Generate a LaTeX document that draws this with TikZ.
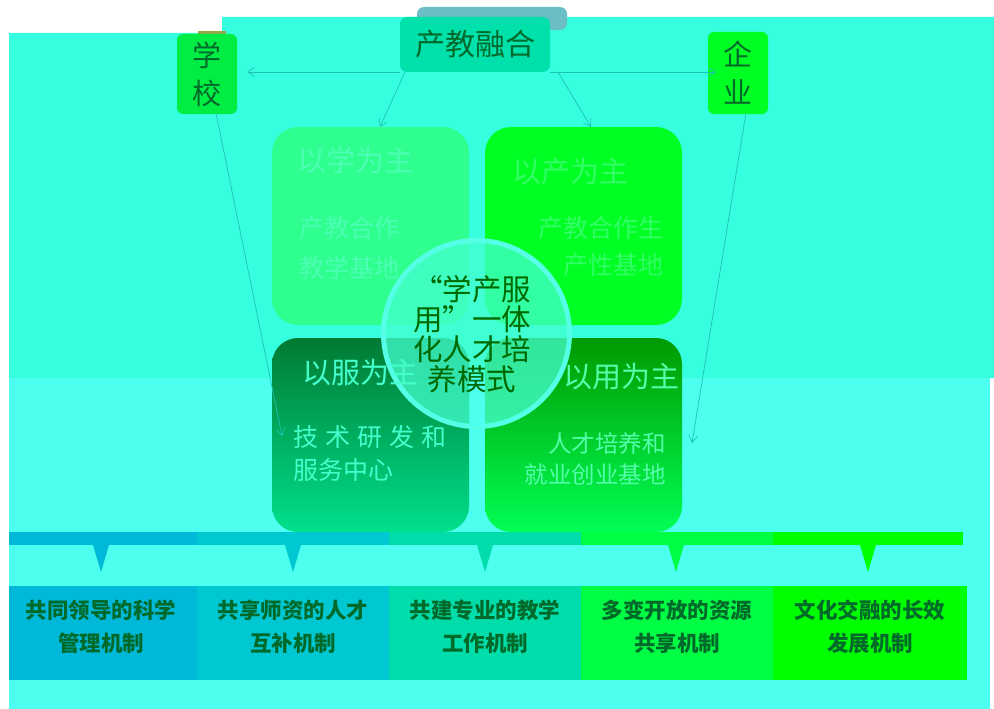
\documentclass[tikz,border=0pt]{standalone}
\usepackage{fontspec}
\newfontfamily\cjk{Noto Sans CJK SC}
\usetikzlibrary{arrows.meta}
\definecolor{bgA}{HTML}{36FFDF}
\definecolor{bgB}{HTML}{4DFFEF}
\definecolor{dk}{HTML}{006A2A}
\definecolor{ln}{HTML}{1CC2B4}
\definecolor{tabc}{HTML}{6BBDC6}
\definecolor{cjc}{HTML}{00E0AA}
\definecolor{olive}{HTML}{99A844}
\definecolor{xxc}{HTML}{00EE44}
\definecolor{qyc}{HTML}{00FF22}
\definecolor{q1c}{HTML}{2EFF8E}
\definecolor{q3a}{HTML}{007A33}
\definecolor{q3b}{HTML}{00E08C}
\definecolor{q4a}{HTML}{009A00}
\definecolor{q4b}{HTML}{00FF55}
\definecolor{t1c}{HTML}{4DFFB4}
\definecolor{t2c}{HTML}{33FF66}
\definecolor{t3c}{HTML}{44FFCC}
\definecolor{t4c}{HTML}{55FFAA}
\definecolor{cfill}{HTML}{44FFD0}
\definecolor{cring}{HTML}{55FFE6}
\definecolor{ctc}{HTML}{006A00}
\definecolor{c1}{HTML}{00B9D9}
\definecolor{c2}{HTML}{00C8D2}
\definecolor{c3}{HTML}{00DDAA}
\definecolor{c4}{HTML}{00FF44}
\definecolor{c5}{HTML}{00FF00}
\tikzset{
  x=1pt,y=-1pt,
  conn/.style={draw=ln,line width=0.7pt,-{Straight Barb[length=7pt,width=9pt]}},
  quad/.style={rounded corners=26pt,minimum width=197pt,inner sep=0pt,draw=none},
  bigt/.style={font=\cjk\fontsize{29}{36}\selectfont,inner sep=0pt},
  subt/.style={font=\cjk\fontsize{25}{40}\selectfont,inner sep=0pt},
  btxt/.style={font=\cjk\bfseries\fontsize{21.5}{33}\selectfont,text=dk,align=center,inner sep=0pt},
  bbox/.style={minimum width=192pt,minimum height=94pt,inner sep=0pt,draw=none},
  bar/.style={minimum height=13pt,inner sep=0pt,draw=none},
}
\begin{document}
\begin{tikzpicture}
\useasboundingbox (0,0) rectangle (994,709);
% background
\fill[white] (0,0) rectangle (994,709);
\fill[bgA] (9,33) -- (222,33) -- (222,17) -- (994,17) -- (994,378) -- (9,378) -- cycle;
\fill[bgB] (9,378) rectangle (990,709);
% top box
\fill[tabc, rounded corners=7pt] (417,7) rectangle (567,30);
\node[fill=cjc,rounded corners=7pt,minimum width=150pt,minimum height=55pt,inner sep=0pt,
      font=\cjk\fontsize{30}{36}\selectfont,text=dk] (cj) at (475,44.5) {产教融合};
% side boxes
\fill[olive] (198,31) rectangle (226,36);
\node[fill=xxc,rounded corners=6pt,minimum width=60pt,minimum height=80pt,inner sep=0pt,
      font=\cjk\fontsize{29}{38}\selectfont,text=dk,align=center] (xx) at (207,74) {学\\校};
\node[fill=qyc,rounded corners=6pt,minimum width=60pt,minimum height=82pt,inner sep=0pt,
      font=\cjk\fontsize{29}{38}\selectfont,text=dk,align=center] (qy) at (738,73) {企\\业};
% quadrants
\node[quad,fill=q1c,minimum height=198pt] (q1) at (370.5,226) {};
\node[quad,fill=qyc,minimum height=198pt] (q2) at (583.5,226) {};
\node[quad,top color=q3a,bottom color=q3b,minimum height=194pt] (q3) at (370.5,435) {};
\node[quad,top color=q4a,bottom color=q4b,minimum height=194pt] (q4) at (583.5,435) {};
% quadrant texts
\node[bigt,anchor=west,text=t1c] (t1) at (297,160) {以学为主};
\node[subt,anchor=north west,align=left,text=t1c] (s1) at (299,216) {产教合作\\教学基地};
\node[bigt,anchor=west,text=t2c] (t2) at (512,172) {以产为主};
\node[subt,anchor=north east,align=right,text=t2c,font=\cjk\fontsize{25}{37}\selectfont] (s2) at (664,216) {产教合作生\\产性基地};
% circle
\fill[cfill,fill opacity=0.75] (476.5,333.5) circle (93);
\draw[cring,line width=5pt] (476.5,333.5) circle (93);
\fill[bgB] (469.5,378) rectangle (484.5,426);
\node[bigt,anchor=west,text=t3c] (t3) at (302,373) {以服为主};
\node[subt,anchor=north west,align=left,text=t3c,font=\cjk\fontsize{25}{33}\selectfont] (s3) at (293,425) {技\hspace{7pt}术\hspace{7pt}研\hspace{7pt}发\hspace{7pt}和\\服务中心};
\node[bigt,anchor=west,text=t4c] (t4) at (563,377) {以用为主};
\node[subt,anchor=north east,align=right,text=t4c,font=\cjk\fontsize{23.5}{31}\selectfont] (s4) at (666,432) {人才培养和\\就业创业基地};
\node[font=\cjk\fontsize{29.5}{30}\selectfont,text=ctc,align=center,inner sep=0pt] (ct) at (472,334) {“学产服\\用”一体\\化人才培\\养模式};
% connectors
\coordinate (cjl) at (405,72);
\coordinate (cjr) at (558,72);
\coordinate (cjw) at (400,72);
\coordinate (cje) at (550,72);
\coordinate (xxe) at (247,72);
\coordinate (qyw) at (716,72);
\coordinate (q1n) at (380,127);
\coordinate (q2n) at (591,127);
\coordinate (xxs) at (216,113);
\coordinate (qys) at (746,113);
\coordinate (q3w) at (282,436);
\coordinate (q4e) at (692,443);
\draw[conn] (cjw) -- (xxe);
\draw[conn] (cje) -- (qyw);
\draw[conn] (cjl) -- (q1n);
\draw[conn] (cjr) -- (q2n);
\draw[conn] (xxs) -- (q3w);
\draw[conn] (qys) -- (q4e);
% bottom bar
\node[bar,fill=c1,minimum width=188pt] (b1) at (103,538.5) {};
\node[bar,fill=c2,minimum width=192pt] (b2) at (293,538.5) {};
\node[bar,fill=c3,minimum width=192pt] (b3) at (485,538.5) {};
\node[bar,fill=c4,minimum width=192pt] (b4) at (677,538.5) {};
\node[bar,fill=c5,minimum width=190pt] (b5) at (868,538.5) {};
\foreach \xc/\c in {101/c1,293/c2,485/c3,676/c4,868/c5}
  \fill[\c] (\xc-8,545) -- (\xc+8,545) -- (\xc,572) -- cycle;
% bottom boxes
\node[bbox,fill=c1,minimum width=188pt] (m1) at (103,633) {};
\node[bbox,fill=c2] (m2) at (293,633) {};
\node[bbox,fill=c3] (m3) at (485,633) {};
\node[bbox,fill=c4] (m4) at (677,633) {};
\node[bbox,fill=c5,minimum width=194pt] (m5) at (870,633) {};
\node[btxt] (l1) at (101,627) {共同领导的科学\\管理机制};
\node[btxt] (l2) at (293,627) {共享师资的人才\\互补机制};
\node[btxt] (l3) at (485,627) {共建专业的教学\\工作机制};
\node[btxt] (l4) at (677,627) {多变开放的资源\\共享机制};
\node[btxt] (l5) at (870,627) {文化交融的长效\\发展机制};
\end{tikzpicture}
\end{document}
